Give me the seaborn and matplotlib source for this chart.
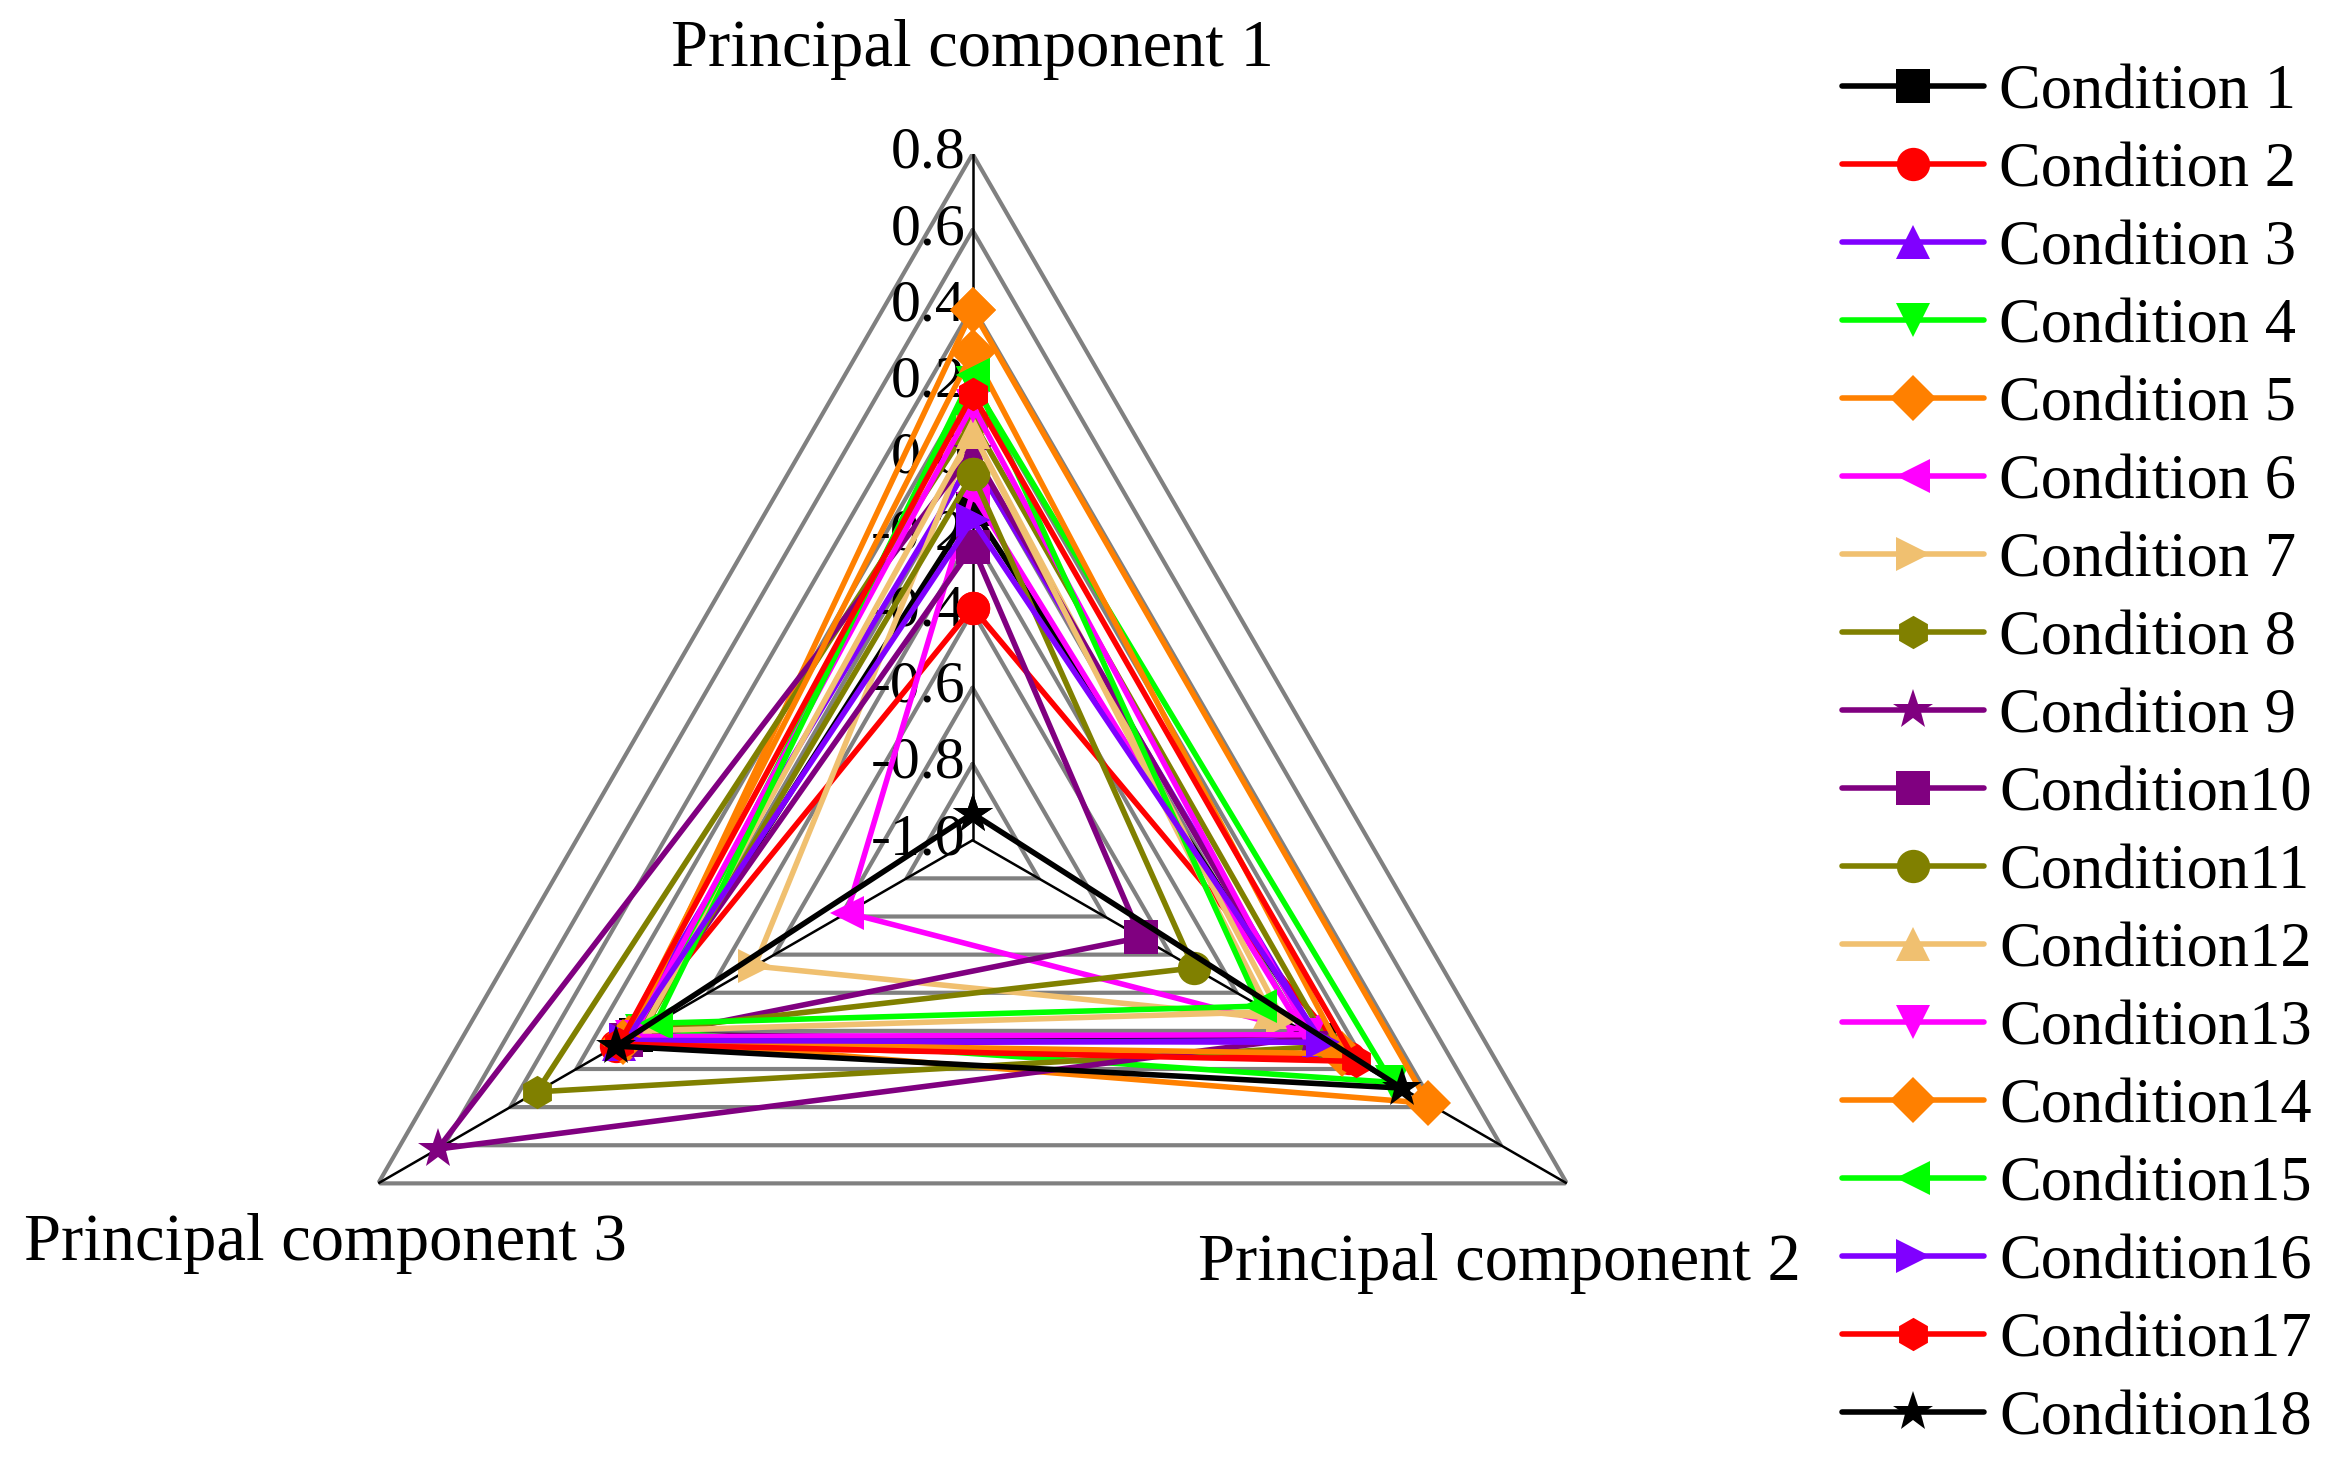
import numpy as np
import pandas as pd
import seaborn as sns
import matplotlib.pyplot as plt

sns.set_style("white")
plt.rcParams['font.family'] = ['Liberation Serif', 'DejaVu Serif']
plt.rcParams['text.color'] = 'black'

axes_names = ["Principal component 1", "Principal component 2", "Principal component 3"]
conditions = ["Condition 1", "Condition 2", "Condition 3", "Condition 4", "Condition 5",
              "Condition 6", "Condition 7", "Condition 8", "Condition 9", "Condition10",
              "Condition11", "Condition12", "Condition13", "Condition14", "Condition15",
              "Condition16", "Condition17", "Condition18"]
pc1 = [-0.13, -0.39, 0.00, 0.20, 0.39, -0.09, 0.07, 0.10, 0.02, -0.23,
       -0.04, 0.07, 0.14, 0.28, 0.22, -0.16, 0.17, -0.93]
pc2 = [0.05, 0.14, 0.05, 0.27, 0.38, 0.00, -0.06, 0.08, 0.03, -0.49,
       -0.33, -0.10, 0.02, 0.12, -0.13, 0.06, 0.16, 0.30]
pc3 = [0.02, 0.08, 0.07, 0.00, 0.04, -0.62, -0.34, 0.32, 0.62, 0.05,
       0.00, 0.00, 0.03, 0.06, -0.04, 0.05, 0.07, 0.08]
tick_values = [-1.0, -0.8, -0.6, -0.4, -0.2, 0.0, 0.2, 0.4, 0.6, 0.8]
tick_labels = ["-1.0", "-0.8", "-0.6", "-0.4", "-0.2", "0.0", "0.2", "0.4", "0.6", "0.8"]

colors = ["#000000", "#FF0000", "#8000FF", "#00FF00", "#FF8000", "#FF00FF", "#F0C070",
          "#808000", "#800080", "#800080", "#808000", "#F0C070", "#FF00FF", "#FF8000",
          "#00FF00", "#8000FF", "#FF0000", "#000000"]
markers = ["s", "o", "^", "v", "D", "<", ">", "h", "*", "s", "o", "^", "v", "D", "<", ">", "h", "*"]

rmin = -1.0
theta = np.array([np.pi / 2, -np.pi / 6, 7 * np.pi / 6])
closed = np.append(theta, theta[0])

fig = plt.figure(figsize=(23.39, 14.58), dpi=100)
ax = fig.add_axes([0.1224, -0.0471, 0.5868, 0.9416], projection='polar')
ax.set_ylim(0, tick_values[-1] - rmin)
ax.grid(False)
ax.spines['polar'].set_visible(False)
ax.set_xticks([])
ax.set_yticks([])

# triangular grid
for v in tick_values[1:]:
    ax.plot(closed, [v - rmin] * 4, color="#808080", lw=3.0, zorder=1)
for t in theta:
    ax.plot([t, t], [0, tick_values[-1] - rmin], color="black", lw=1.8, zorder=2)

for v, lab in zip(tick_values, tick_labels):
    ax.annotate(lab, xy=(np.pi / 2, v - rmin), xytext=(-5, 0), textcoords="offset points",
                ha="right", va="center", fontsize=43, zorder=1)

for i, name in enumerate(conditions):
    vals = np.array([pc1[i], pc2[i], pc3[i], pc1[i]]) - rmin
    ms = 30 if markers[i] == "*" else (23 if markers[i] == "D" else 24)
    sns.lineplot(x=closed, y=vals, sort=False, estimator=None, ax=ax, color=colors[i],
                 marker=markers[i], markersize=ms, markeredgewidth=0, linewidth=4.0,
                 label=name, zorder=3 + i)

handles, labels = ax.get_legend_handles_labels()
ax.get_legend().remove()
fig.legend(handles, labels, loc="upper left", bbox_to_anchor=(0.777, 0.973), frameon=False,
           fontsize=45, handlelength=2.27, handletextpad=0.24, labelspacing=0.32,
           numpoints=1, borderaxespad=0)

fig.text(652 / 1568, 1 - 33 / 977, axes_names[0], ha="center", va="center", fontsize=48)
fig.text(1005 / 1568, 1 - 847 / 977, axes_names[1], ha="center", va="center", fontsize=48)
fig.text(218 / 1568, 1 - 833 / 977, axes_names[2], ha="center", va="center", fontsize=48)

fig.savefig("out.png", dpi=100)
